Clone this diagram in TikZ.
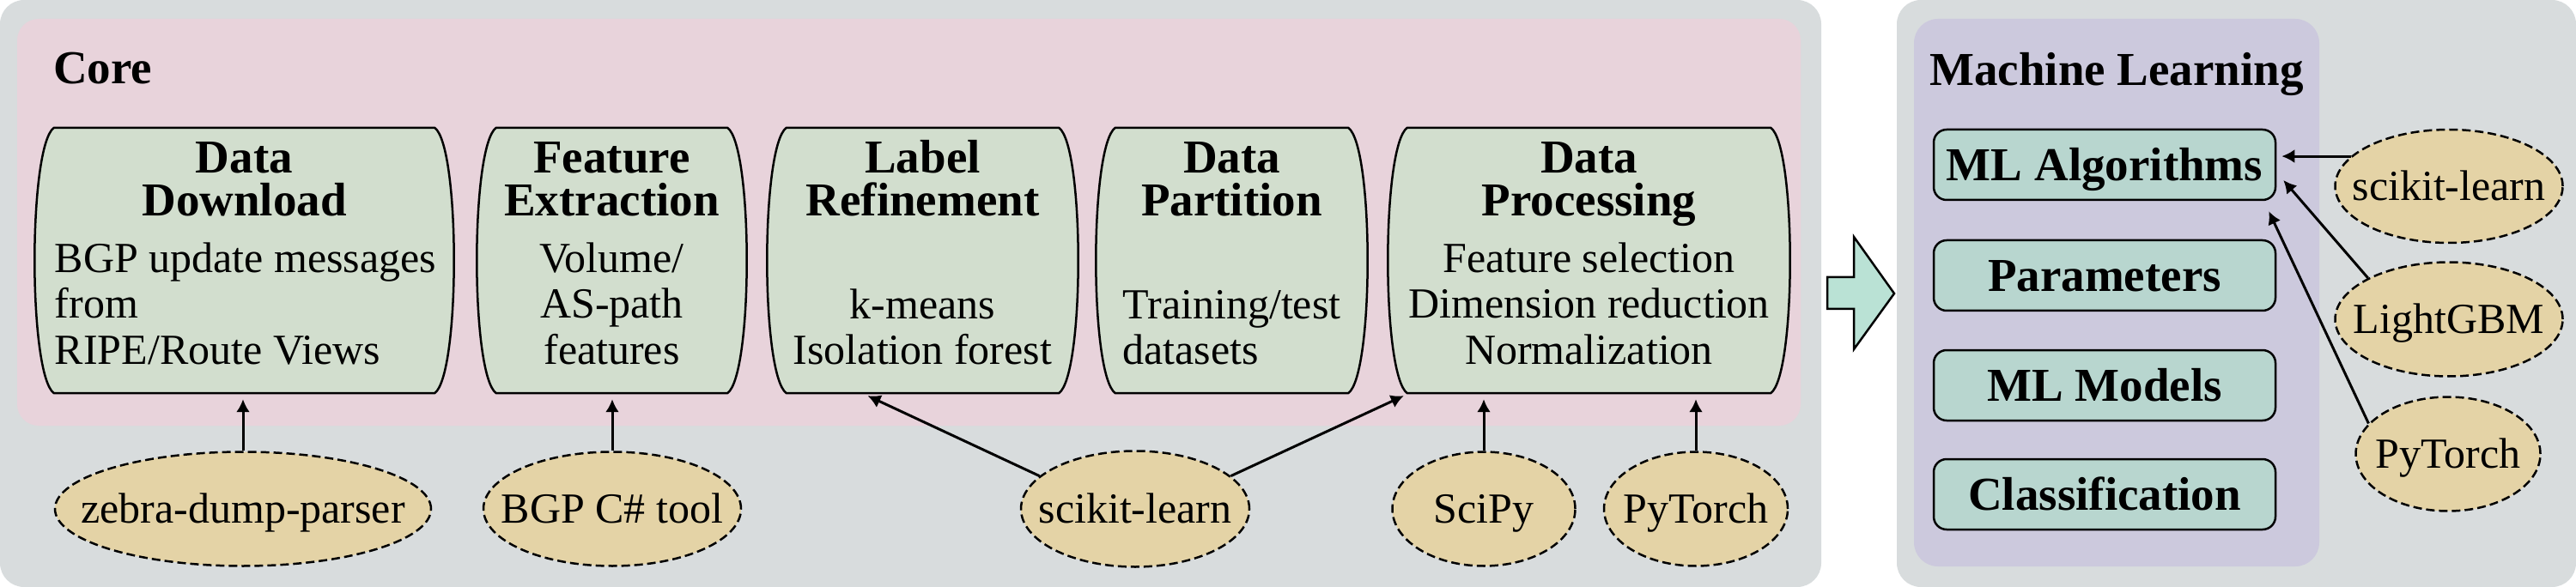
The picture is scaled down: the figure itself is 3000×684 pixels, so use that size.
\documentclass[tikz,border=0pt]{standalone}
\usepackage{fontspec}
\setmainfont{Liberation Serif}
\usetikzlibrary{calc,arrows.meta,shapes.geometric}
\definecolor{outergray}{HTML}{D8DCDD}
\definecolor{corepink}{HTML}{E8D3DB}
\definecolor{mlpurple}{HTML}{CCC9DD}
\definecolor{stepgreen}{HTML}{D2DECE}
\definecolor{mlteal}{HTML}{B8D6CF}
\definecolor{toolfill}{HTML}{E4D3A6}
\definecolor{bigarrow}{HTML}{BAE2D5}
\tikzset{
  panel/.style={rounded corners=28pt, fill=outergray, draw=none},
  stepline/.style={draw=black, line width=2.5pt, fill=stepgreen, line join=round},
  steparea/.style={inner sep=0pt, draw=none},
  titletext/.style={anchor=north, inner sep=0pt, align=center, font=\fontsize{55}{50}\selectfont\bfseries},
  bodytext/.style={anchor=north, inner sep=0pt, font=\fontsize{50}{53.5}\selectfont},
  headtext/.style={inner sep=0pt, font=\fontsize{55}{60}\selectfont\bfseries},
  mlbox/.style={draw=black, line width=2.5pt, fill=mlteal, rounded corners=15pt, minimum width=398pt, minimum height=82pt, inner sep=0pt, text height=37pt, text depth=0pt, font=\fontsize{55}{60}\selectfont\bfseries},
  tool/.style={ellipse, draw=black, line width=2.5pt, dash pattern=on 10pt off 5pt, fill=toolfill, inner sep=0pt, text height=33pt, text depth=0pt, font=\fontsize{50}{54}\selectfont},
  conn/.style={-{Latex[length=15pt,width=16pt]}, line width=3pt}
}
\newcommand\barrelbox[1]{%
  \draw[stepline] (#1.north west) -- (#1.north east)
    .. controls ($(#1.north east)+(30,22)$) and ($(#1.south east)+(30,-22)$) .. (#1.south east)
    -- (#1.south west)
    .. controls ($(#1.south west)+(-30,-22)$) and ($(#1.north west)+(-30,22)$) .. (#1.north west) -- cycle;}
\begin{document}
\begin{tikzpicture}[x=1pt,y=-1pt]
\useasboundingbox (0,0) rectangle (3000,684);
% panels
\fill[panel] (0,0) rectangle (2121,684);
\fill[panel] (2209,0) rectangle (3000,684);
\fill[corepink, rounded corners=25pt] (20,22) rectangle (2097,496);
\fill[mlpurple, rounded corners=28pt] (2229,22) rectangle (2701,660);
\node[headtext, anchor=base west] (coret) at (62,98) {Core};
\node[headtext, anchor=base] (mlt) at (2465,100) {Machine Learning};
% core steps
\node[steparea, minimum width=443pt, minimum height=309pt] (dd) at (284.5,303.5) {};
\node[steparea, minimum width=269pt, minimum height=309pt] (fe) at (712.5,303.5) {};
\node[steparea, minimum width=317pt, minimum height=309pt] (lr) at (1074.5,303.5) {};
\node[steparea, minimum width=271pt, minimum height=309pt] (dpart) at (1434.5,303.5) {};
\node[steparea, minimum width=423pt, minimum height=309pt] (dproc) at (1850.5,303.5) {};
\barrelbox{dd}\barrelbox{fe}\barrelbox{lr}\barrelbox{dpart}\barrelbox{dproc}
\node[titletext] (ddt) at (284.5,161) {\rule{0pt}{40pt}Data\\Download};
\node[titletext] (fet) at (712.5,161) {\rule{0pt}{40pt}Feature\\Extraction};
\node[titletext] (lrt) at (1074.5,161) {\rule{0pt}{40pt}Label\\Refinement};
\node[titletext] (dpartt) at (1434.5,161) {\rule{0pt}{40pt}Data\\Partition};
\node[titletext] (dproct) at (1850.5,161) {\rule{0pt}{40pt}Data\\Processing};
\node[bodytext, align=left] (ddb) at (286,280) {\rule{0pt}{37pt}BGP update messages\\from\\RIPE/Route Views};
\node[bodytext, align=center] (feb) at (712.5,280) {\rule{0pt}{37pt}Volume/\\AS-path\\features};
\node[bodytext, align=center] (lrb) at (1074.5,334) {\rule{0pt}{37pt}k-means\\Isolation forest};
\node[bodytext, align=left] (dpartb) at (1434.5,334) {\rule{0pt}{37pt}Training/test\\datasets};
\node[bodytext, align=center] (dprocb) at (1850.5,280) {\rule{0pt}{37pt}Feature selection\\Dimension reduction\\Normalization};
% core tools
\node[tool, minimum width=438pt, minimum height=133pt] (zeb) at (283,593) {\makebox[0pt]{zebra-dump-parser}};
\node[tool, minimum width=300pt, minimum height=133pt] (bgpc) at (713,593) {\makebox[0pt]{BGP C\# tool}};
\node[tool, minimum width=266pt, minimum height=135pt] (skc) at (1322,593) {\makebox[0pt]{scikit-learn}};
\node[tool, minimum width=213pt, minimum height=133pt] (scp) at (1728,593) {\makebox[0pt]{SciPy}};
\node[tool, minimum width=214pt, minimum height=133pt] (ptc) at (1975,593) {\makebox[0pt]{PyTorch}};
\draw[conn, shorten >=7pt] (zeb.north) -- (zeb.north |- dd.south);
\draw[conn, shorten >=7pt] (bgpc.north) -- (bgpc.north |- fe.south);
\draw[conn] (skc.161) -- ($(lr.south)+(-64,3)$);
\draw[conn] (skc.19) -- ($(dproc.south west)+(-4,3)$);
\draw[conn, shorten >=7pt] (scp.north) -- (scp.north |- dproc.south);
\draw[conn, shorten >=7pt] (ptc.north) -- (ptc.north |- dproc.south);
% big arrow
\draw[fill=bigarrow, line width=2.5pt, line join=miter] (2128,323) -- (2159,323) -- (2159,276) -- (2206,342) -- (2159,407) -- (2159,360) -- (2128,360) -- cycle;
% ML boxes
\node[mlbox] (mla) at (2451,192) {ML Algorithms};
\node[mlbox] (mpar) at (2451,321) {Parameters};
\node[mlbox] (mmod) at (2451,449) {ML Models};
\node[mlbox] (mcls) at (2451,576) {Classification};
% ML tools
\node[tool, minimum width=265pt, minimum height=132pt] (rsk) at (2852,217) {\makebox[0pt]{scikit-learn}};
\node[tool, minimum width=265pt, minimum height=133pt] (lgb) at (2852,372) {\makebox[0pt]{LightGBM}};
\node[tool, minimum width=215pt, minimum height=133pt] (rpt) at (2851,529) {\makebox[0pt]{PyTorch}};
\draw[conn, shorten >=6pt] (rsk.163) -- (rsk.163 -| mla.east);
\draw[conn] (lgb.153) -- ($(mla.east)+(8,18)$);
\draw[conn] (rpt.159) -- ($(mla.south east)+(-9,12)$);
\end{tikzpicture}
\end{document}
